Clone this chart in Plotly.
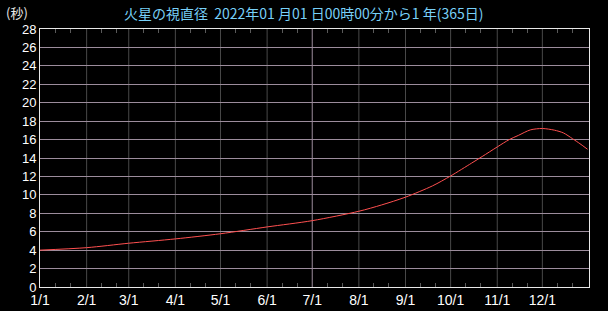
import plotly.graph_objects as go

dates = ["2022-01-01", "2022-02-01", "2022-03-01", "2022-04-01", "2022-05-01",
         "2022-06-01", "2022-07-01", "2022-08-01", "2022-08-16", "2022-09-01",
         "2022-09-19", "2022-10-01", "2022-10-15", "2022-10-22", "2022-11-01",
         "2022-11-09", "2022-11-15", "2022-11-23", "2022-12-01", "2022-12-09",
         "2022-12-15", "2022-12-21", "2022-12-26", "2022-12-31"]
diameter = [4.00, 4.27, 4.75, 5.22, 5.78,
            6.52, 7.20, 8.22, 8.90, 9.75,
            10.98, 12.05, 13.45, 14.16, 15.20,
            16.00, 16.45, 17.05, 17.20, 17.02,
            16.72, 16.10, 15.55, 14.95]

month_ticks = ["2022-%02d-01" % m for m in range(1, 13)]
month_labels = ["%d/1" % m for m in range(1, 13)]
minor_ticks = ["2022-%02d-%02d" % (m, d) for m in range(1, 13) for d in (11, 21)]
y_ticks = list(range(0, 29, 2))

fig = go.Figure()
fig.add_trace(go.Scatter(x=dates, y=diameter, mode="lines",
                         line=dict(color="#ff5050", width=1, shape="spline", smoothing=0.8),
                         hoverinfo="skip", showlegend=False))

# month separator lines, darker; 7/1 lighter
for t in month_ticks[1:]:
    fig.add_shape(type="line", xref="x", yref="paper", x0=t, x1=t, y0=0, y1=1,
                  line=dict(color="#9c8c9c" if t == "2022-07-01" else "#484848", width=1),
                  layer="below")

fig.update_layout(
    width=608, height=311,
    paper_bgcolor="#000000", plot_bgcolor="#000000",
    margin=dict(l=40, r=19, t=29, b=24),
    font=dict(family="Liberation Sans, Noto Sans CJK JP", color="#ffffff", size=12),
    xaxis=dict(
        type="date", range=["2022-01-01", "2023-01-01"], automargin=False,
        tickmode="array", tickvals=month_ticks, ticktext=month_labels,
        showgrid=False,
        ticks="",
        minor=dict(tickmode="array", tickvals=minor_ticks, ticks="inside",
                   ticklen=4, tickcolor="#5a5a5a", showgrid=False),
        showline=True, linecolor="#e8e8e8", linewidth=1, mirror="ticks",
        tickfont=dict(size=14, color="#ffffff"),
        zeroline=False, fixedrange=True,
    ),
    yaxis=dict(
        range=[0, 28], tickmode="array", tickvals=y_ticks, automargin=False,
        showgrid=True, gridcolor="#9c8c9c", gridwidth=1,
        showline=True, linecolor="#e8e8e8", linewidth=1, mirror=True,
        ticks="", tickfont=dict(size=13, color="#ffffff"),
        zeroline=False, fixedrange=True,
    ),
    annotations=[
        dict(text="火星の視直径  2022年01 月01 日00時00分から1 年(365日)",
             xref="paper", yref="paper", x=0.48, y=1, yshift=16, showarrow=False,
             xanchor="center", yanchor="middle",
             font=dict(size=14, color="#78d0f8",
                       family="Noto Sans CJK JP")),
        dict(text="(秒)", xref="paper", yref="paper", x=0, xshift=-36, y=1, yshift=17,
             showarrow=False, xanchor="left", yanchor="middle",
             font=dict(size=13, color="#e8e8e8", family="Noto Sans CJK JP")),
    ],
)

fig.write_html("out.html")
